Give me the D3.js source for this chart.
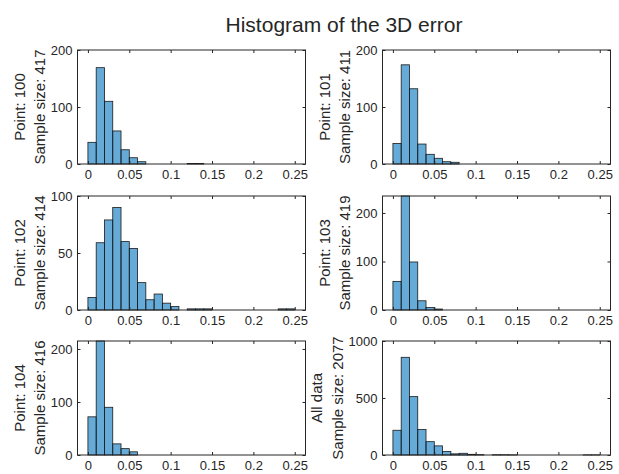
<!DOCTYPE html>
<html>
<head>
<meta charset="utf-8">
<script src="https://cdn.jsdelivr.net/npm/d3@7"></script>
<style>
  html, body { margin: 0; padding: 0; background: #fff; }
  svg { display: block; }
  text { font-family: "Liberation Sans", Arial, Helvetica, sans-serif; fill: #262626; }
</style>
</head>
<body>
<script>
// ---- data ----
const binEdges = [0, 0.01, 0.02, 0.03, 0.04, 0.05, 0.06, 0.07, 0.08, 0.09, 0.10, 0.11, 0.12,
                  0.13, 0.14, 0.15, 0.16, 0.17, 0.18, 0.19, 0.20, 0.21, 0.22, 0.23, 0.24, 0.25];
const counts100 = [38,169,110,58,25,11,4,0,0,0,0,0,1,1,0,0,0,0,0,0,0,0,0,0,0];
const counts101 = [36,174,132,35,17,10,4,3,0,0,0,0,0,0,0,0,0,0,0,0,0,0,0,0,0];
const counts102 = [11,59,79,90,60,54,24,9,14,6,3,0,1,1,1,0,0,0,0,0,0,0,0,1,1];
const counts103 = [59,235,99,19,5,2,0,0,0,0,0,0,0,0,0,0,0,0,0,0,0,0,0,0,0];
const counts104 = [72,215,90,21,12,6,0,0,0,0,0,0,0,0,0,0,0,0,0,0,0,0,0,0,0];
const countsAll = [217,857,512,223,117,80,30,10,15,6,3,0,2,2,1,0,0,0,0,0,0,0,0,1,1];
const panelNames = ["Point: 100", "Point: 101", "Point: 102", "Point: 103", "Point: 104", "All data"];
const sampleSizes = [417, 411, 414, 419, 416, 2077];
const yMaxes = [200, 200, 100, null, null, 1000];
const yTicks = [[0,100,200],[0,100,200],[0,50,100],[0,100,200],[0,100,200],[0,500,1000]];
const xTicks = [0, 0.05, 0.1, 0.15, 0.2, 0.25];
const xTickLabels = ["0", "0.05", "0.1", "0.15", "0.2", "0.25"];
const titleText = "Histogram of the 3D error";

const series = [counts100, counts101, counts102, counts103, counts104, countsAll];

// ---- layout ----
const W = 619, H = 474;
const colX = [77.5, 382.5];
const rowY = [50, 196, 341];
const axW = 228, axH = 114;
const xDomain = [-0.0126, 0.263];
const tickFont = 13, labelFont = 15;
const ink = "#262626";

const svg = d3.select("body").append("svg").attr("width", W).attr("height", H);
svg.append("rect").attr("width", W).attr("height", H).attr("fill", "#fff");

svg.append("text")
  .attr("x", (colX[0] + colX[1] + axW) / 2)
  .attr("y", 32)
  .attr("text-anchor", "middle")
  .style("font-size", "21px")
  .text(titleText);

series.forEach((counts, i) => {
  const col = i % 2, row = Math.floor(i / 2);
  const x0 = colX[col], y0 = rowY[row];
  const x = d3.scaleLinear().domain(xDomain).range([x0, x0 + axW]);
  const yMax = yMaxes[i] != null ? yMaxes[i] : d3.max(counts);
  const y = d3.scaleLinear().domain([0, yMax]).range([y0 + axH, y0]);
  const g = svg.append("g");

  // bars
  const bins = counts.map((c, k) => ({ x0: binEdges[k], x1: binEdges[k + 1], c }));
  g.selectAll("rect.bar").data(bins.filter(d => d.c > 0)).enter().append("rect")
    .attr("class", "bar")
    .attr("x", d => x(d.x0))
    .attr("y", d => y(d.c))
    .attr("width", d => x(d.x1) - x(d.x0))
    .attr("height", d => y(0) - y(d.c))
    .attr("fill", "#0072BD").attr("fill-opacity", 0.6)
    .attr("stroke", "#1a1a1a").attr("stroke-width", 0.8);

  // axes
  const ax = (sel) => { sel.select(".domain").remove(); sel.selectAll("line").attr("stroke", ink); };
  const bottom = g.append("g").attr("transform", `translate(0,${y0 + axH})`)
    .call(d3.axisBottom(x).tickValues(xTicks).tickFormat((d, k) => xTickLabels[k])
      .tickSizeInner(-3).tickSizeOuter(0).tickPadding(6));
  ax(bottom);
  bottom.selectAll("text").style("font-size", tickFont + "px").attr("fill", ink);

  const top = g.append("g").attr("transform", `translate(0,${y0})`)
    .call(d3.axisTop(x).tickValues(xTicks).tickFormat("").tickSizeInner(-3).tickSizeOuter(0));
  ax(top);

  const left = g.append("g").attr("transform", `translate(${x0},0)`)
    .call(d3.axisLeft(y).tickValues(yTicks[i]).tickFormat(d3.format("d"))
      .tickSizeInner(-3).tickSizeOuter(0).tickPadding(5));
  ax(left);
  left.selectAll("text").style("font-size", tickFont + "px").attr("fill", ink);

  const right = g.append("g").attr("transform", `translate(${x0 + axW},0)`)
    .call(d3.axisRight(y).tickValues(yTicks[i]).tickFormat("").tickSizeInner(-3).tickSizeOuter(0));
  ax(right);

  // box
  g.append("rect").attr("x", x0).attr("y", y0).attr("width", axW).attr("height", axH)
    .attr("fill", "none").attr("stroke", ink).attr("stroke-width", 1);

  // y label (two lines)
  let minX = x0;
  left.selectAll("text").each(function () {
    const b = this.getBBox();
    const m = this.getCTM();
    const lx = b.x + (m ? m.e : 0);
    if (lx < minX) minX = lx;
  });
  const base2 = minX - 5.5;
  const cy = y0 + axH / 2;
  const lab = g.append("text")
    .attr("transform", `translate(${base2},${cy}) rotate(-90)`)
    .attr("text-anchor", "middle")
    .style("font-size", labelFont + "px");
  lab.append("tspan").attr("x", 0).attr("dy", "-1.38em").text(panelNames[i]);
  lab.append("tspan").attr("x", 0).attr("dy", "1.38em").text("Sample size: " + sampleSizes[i]);
});
</script>
</body>
</html>
